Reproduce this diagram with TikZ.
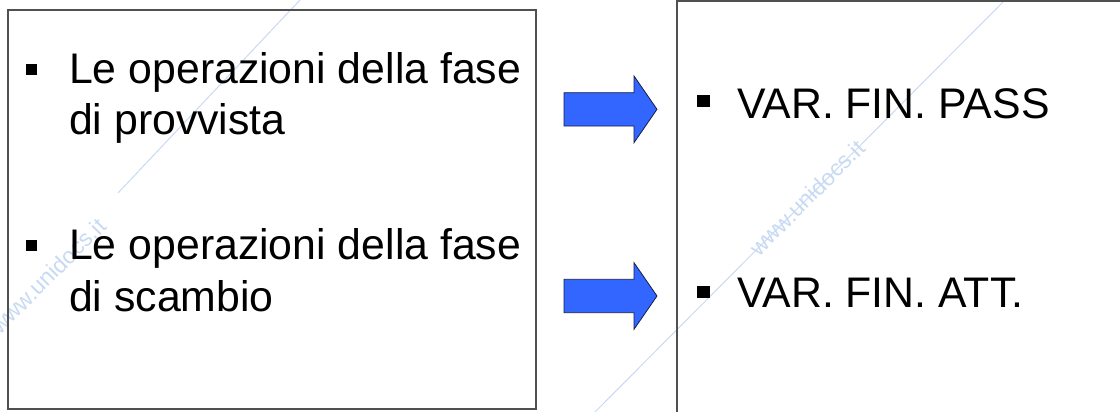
\documentclass[tikz,border=0pt]{standalone}
\usepackage{fontspec}
\setmainfont{Liberation Sans}
\usepackage{tikz}
\definecolor{arrowblue}{RGB}{51,102,255}
\definecolor{arrowline}{RGB}{20,30,70}
\definecolor{boxline}{RGB}{80,80,80}
\definecolor{wmblue}{RGB}{200,218,242}
\tikzset{
  txt/.style={anchor=base west,inner sep=0pt,font=\fontsize{42.8}{51}\selectfont},
  wm/.style={inner sep=0pt,rotate=45,text=wmblue,font=\fontsize{23}{23}\selectfont}
}

\begin{document}
\begin{tikzpicture}[x=1pt,y=1pt,yscale=-1,xscale=1]
\useasboundingbox (0,0) rectangle (1120,412);
\clip (0,0) rectangle (1120,412);

%Straight Lines (watermark)
\draw [color=wmblue, line width=1pt] (118,193) -- (300,0) ;
\draw [color=wmblue, line width=1pt] (595,412) -- (1005,0) ;
% Text Node (watermark)
\node [wm] (wmleft) at (48,276) {www.unidocs.it};
\node [wm] (wmright) at (807,198) {www.unidocs.it};

%Shape: Rectangle (left box)
\draw [color=boxline, line width=1.3pt] (8,10) rectangle (536,409) ;
%Shape: Rectangle (right box)
\draw [color=boxline, line width=1.3pt] (677,1) rectangle (1140,430) ;

%Shape: Right Arrow
\draw [color=arrowline, fill=arrowblue, line width=0.8pt] (564,92.7) -- (634,92.7) -- (634,76) -- (657,109.3) -- (634,142.7) -- (634,126) -- (564,126) -- cycle ;
%Shape: Right Arrow
\draw [color=arrowline, fill=arrowblue, line width=0.8pt] (564,279.3) -- (634,279.3) -- (634,262.7) -- (657,296) -- (634,329.3) -- (634,312.7) -- (564,312.7) -- cycle ;

%Bullets
\fill (26,64) rectangle (37,75) ;
\fill (26,240) rectangle (37,251) ;
\fill (697,95) rectangle (710,107) ;
\fill (697,286) rectangle (710,298) ;

% Text Node
\node [txt] (provA) at (69,84) {Le operazioni della fase};
% Text Node
\node [txt] (provB) at (69,135) {di provvista};
% Text Node
\node [txt] (scamA) at (69,259) {Le operazioni della fase};
% Text Node
\node [txt] (scamB) at (69,311) {di scambio};
% Text Node
\node [txt] (pass) at (737,118) {VAR. FIN. PASS};
% Text Node
\node [txt] (att) at (737,307) {VAR. FIN. ATT.};

\end{tikzpicture}
\end{document}
